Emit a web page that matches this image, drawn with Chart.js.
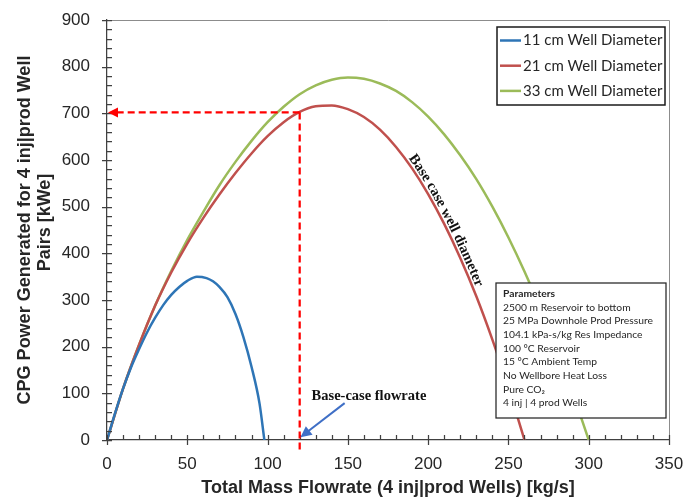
<!DOCTYPE html>
<html><head><meta charset="utf-8">
<script src="https://cdn.jsdelivr.net/npm/chart.js@4.4.1/dist/chart.umd.min.js"></script>
<style>html,body{margin:0;padding:0;background:#fff;}#wrap{width:697px;height:499px;}</style>
</head><body><div id="wrap"><canvas id="c" width="697" height="499"></canvas></div>
<script>
// ---- data ----
const xTickValues = [0, 50, 100, 150, 200, 250, 300, 350];
const yTickValues = [0, 100, 200, 300, 400, 500, 600, 700, 800, 900];
const seriesLabels = ['11 cm Well Diameter', '21 cm Well Diameter', '33 cm Well Diameter'];
const flow11 = [0, 5, 10, 15, 20, 25, 30, 35, 40, 45, 50, 56, 62, 66, 70, 75, 80, 85, 90, 95, 98];
const power11 = [0, 57, 110, 156, 195, 231, 262, 289, 311, 328, 341, 350, 347, 340, 328, 306, 270, 220, 157, 78, 0];
const flow21 = [0, 10, 20, 30, 40, 50, 60, 70, 80, 90, 100, 110, 120, 130, 140, 150, 160, 170, 180, 190, 200, 210, 220, 230, 240, 250, 260];
const power21 = [0, 110, 204, 288, 359, 421, 476, 526, 572, 614, 651, 681, 703, 715, 717, 709, 692, 665, 628, 582, 527, 463, 390, 308, 215, 112, 0];
const flow33 = [0, 10, 20, 30, 40, 50, 60, 70, 80, 90, 100, 110, 120, 130, 140, 150, 160, 170, 180, 190, 200, 210, 220, 230, 240, 250, 260, 270, 280, 290, 300];
const power33 = [0, 110, 204, 288, 362, 429, 489, 546, 596, 641, 681, 714, 741, 760, 772, 777, 774, 764, 748, 724, 693, 655, 610, 559, 500, 434, 361, 281, 195, 101, 0];
const baseCaseFlow = 120;
const baseCasePower = 702;
const flowLabel = 'Base-case flowrate';
const diameterLabel = 'Base case well diameter';
const paramsTitle = 'Parameters';
const paramsLines = ['2500 m Reservoir to bottom', '25 MPa Downhole Prod Pressure', '104.1 kPa-s/kg Res Impedance',
  '100 \u00B0C Reservoir', '15 \u00B0C Ambient Temp', 'No Wellbore Heat Loss', 'Pure CO\u2082', '4 inj | 4 prod Wells'];
const xTitle = 'Total Mass Flowrate (4 inj|prod Wells) [kg/s]';
const yTitle = ['CPG Power Generated for 4 inj|prod Well', '   Pairs [kWe]'];
const colors = ['#2E75B6', '#C0504D', '#9BBB59'];

const toXY = (xs, ys) => xs.map((x, i) => ({x, y: ys[i]}));
const AXIS = '#404040';
const TXT = '#262626';

function arrowHead(ctx, tipX, tipY, fromX, fromY, len, half, color) {
  const a = Math.atan2(tipY - fromY, tipX - fromX);
  ctx.save();
  ctx.translate(tipX, tipY); ctx.rotate(a);
  ctx.beginPath(); ctx.moveTo(0, 0); ctx.lineTo(-len, -half); ctx.lineTo(-len, half); ctx.closePath();
  ctx.fillStyle = color; ctx.fill();
  ctx.restore();
}

const decor = {
  id: 'decor',
  afterDatasetsDraw(chart) {
    const {ctx, chartArea: ca, scales: {x, y}} = chart;
    ctx.save();
    // frame top/right
    ctx.strokeStyle = '#8c8c8c'; ctx.lineWidth = 1;
    ctx.beginPath(); ctx.moveTo(ca.left, ca.top + 0.5); ctx.lineTo(ca.right + 0.5, ca.top + 0.5); ctx.lineTo(ca.right + 0.5, ca.bottom); ctx.stroke();
    // ticks
    ctx.strokeStyle = AXIS; ctx.lineWidth = 1.25;
    ctx.beginPath();
    for (let v = 0; v <= 900; v += 20) {
      const py = Math.round(y.getPixelForValue(v)) + 0.5;
      const major = v % 100 === 0;
      ctx.moveTo(ca.left - (major ? 5 : 0), py); ctx.lineTo(ca.left + 5, py);
    }
    for (let v = 0; v <= 350; v += 10) {
      const px = Math.round(x.getPixelForValue(v)) + 0.5;
      const major = v % 50 === 0;
      ctx.moveTo(px, ca.bottom - 5); ctx.lineTo(px, ca.bottom + (major ? 5 : 0));
    }
    ctx.stroke();
    // red dashed guide lines
    const bx = x.getPixelForValue(baseCaseFlow), by = y.getPixelForValue(baseCasePower);
    const x0 = x.getPixelForValue(0);
    ctx.strokeStyle = '#FF0000'; ctx.lineWidth = 2.25; ctx.setLineDash([7, 4]);
    ctx.beginPath(); ctx.moveTo(bx, by); ctx.lineTo(x0 + 9, by); ctx.stroke();
    ctx.beginPath(); ctx.moveTo(bx, by); ctx.lineTo(bx, ca.bottom + 12); ctx.stroke();
    ctx.setLineDash([]);
    arrowHead(ctx, x0 + 1, by, bx, by, 10, 5, '#FF0000');
    // blue arrow
    const ax1 = x.getPixelForValue(148), ay1 = y.getPixelForValue(79);
    const ax2 = x.getPixelForValue(120.5), ay2 = y.getPixelForValue(6);
    ctx.strokeStyle = '#3F6FC6'; ctx.lineWidth = 2;
    const ang = Math.atan2(ay2 - ay1, ax2 - ax1);
    ctx.beginPath(); ctx.moveTo(ax1, ay1); ctx.lineTo(ax2 - 8 * Math.cos(ang), ay2 - 8 * Math.sin(ang)); ctx.stroke();
    arrowHead(ctx, ax2, ay2, ax1, ay1, 11, 5.5, '#3F6FC6');
    // flow label
    ctx.fillStyle = '#111'; ctx.font = 'bold 14.5px "Liberation Serif", "Times New Roman", serif';
    ctx.textBaseline = 'middle'; ctx.textAlign = 'left';
    ctx.fillText(flowLabel, x.getPixelForValue(127.4), y.getPixelForValue(93));
    // curved label along red curve
    const line = chart.getDatasetMeta(1).dataset;
    const pts = [];
    for (let v = 176; v <= 245; v += 0.25) {
      const p = line.interpolate({x: x.getPixelForValue(v)}, 'x');
      if (p && !Array.isArray(p)) pts.push([p.x, p.y]);
    }
    const off = [];
    for (let i = 1; i < pts.length - 1; i++) {
      const dx = pts[i + 1][0] - pts[i - 1][0], dy = pts[i + 1][1] - pts[i - 1][1];
      const L = Math.hypot(dx, dy);
      const nx = dy / L, ny = -dx / L;
      off.push([pts[i][0] + nx * 3, pts[i][1] + ny * 3]);
    }
    const cum = [0];
    for (let i = 1; i < off.length; i++) cum.push(cum[i - 1] + Math.hypot(off[i][0] - off[i - 1][0], off[i][1] - off[i - 1][1]));
    let startIdx = off.findIndex(p => p[1] >= 158);
    if (startIdx < 0) startIdx = 0;
    let s = cum[startIdx];
    const at = (sv) => {
      let i = 1; while (i < cum.length - 1 && cum[i] < sv) i++;
      const t = (sv - cum[i - 1]) / ((cum[i] - cum[i - 1]) || 1);
      const px = off[i - 1][0] + t * (off[i][0] - off[i - 1][0]);
      const py = off[i - 1][1] + t * (off[i][1] - off[i - 1][1]);
      const a = Math.atan2(off[i][1] - off[i - 1][1], off[i][0] - off[i - 1][0]);
      return {px, py, a};
    };
    ctx.font = 'bold 14.5px "Liberation Serif", "Times New Roman", serif';
    ctx.textBaseline = 'alphabetic';
    for (const ch of diameterLabel) {
      const w = ctx.measureText(ch).width;
      const mid = at(s + w / 2);
      const st = at(s);
      ctx.save(); ctx.translate(st.px, st.py); ctx.rotate(mid.a);
      ctx.fillText(ch, 0, 0); ctx.restore();
      s += w;
    }
    ctx.restore();
  },
  afterDraw(chart) {
    const {ctx} = chart;
    ctx.save();
    // legend box
    ctx.fillStyle = '#fff'; ctx.fillRect(497, 27, 168, 78);
    ctx.strokeStyle = '#1a1a1a'; ctx.lineWidth = 1.5; ctx.strokeRect(497, 27, 168, 78);
    ctx.font = '15px Lato, "Open Sans", sans-serif'; ctx.textBaseline = 'middle'; ctx.textAlign = 'left';
    chart.data.datasets.forEach((ds, i) => {
      const ry = 40.5 + i * 25.2;
      ctx.strokeStyle = ds.borderColor; ctx.lineWidth = 2.5;
      ctx.beginPath(); ctx.moveTo(500, ry); ctx.lineTo(521, ry); ctx.stroke();
      ctx.fillStyle = TXT; ctx.fillText(ds.label, 523, ry);
    });
    // parameters box
    ctx.fillStyle = '#fff'; ctx.fillRect(496, 283, 170, 135);
    ctx.strokeStyle = '#262626'; ctx.lineWidth = 1.25; ctx.strokeRect(496, 283, 170, 135);
    ctx.fillStyle = TXT;
    ctx.font = 'bold 10.3px Lato, "Open Sans", sans-serif';
    ctx.fillText(paramsTitle, 503, 294);
    ctx.font = '10.3px Lato, "Open Sans", sans-serif';
    paramsLines.forEach((t, i) => ctx.fillText(t, 503, 307.5 + i * 13.65));
    ctx.restore();
  }
};

new Chart(document.getElementById('c'), {
  type: 'line',
  data: {
    datasets: [
      {label: seriesLabels[0], data: toXY(flow11, power11), borderColor: colors[0]},
      {label: seriesLabels[1], data: toXY(flow21, power21), borderColor: colors[1]},
      {label: seriesLabels[2], data: toXY(flow33, power33), borderColor: colors[2]}
    ].map(d => Object.assign(d, {borderWidth: 2.5, pointRadius: 0, fill: false, cubicInterpolationMode: 'monotone'}))
  },
  options: {
    responsive: false, animation: false, devicePixelRatio: 1,
    layout: {padding: {top: 20, right: 28, left: 0, bottom: 0}},
    plugins: {legend: {display: false}, tooltip: {enabled: false}},
    scales: {
      x: {
        type: 'linear', min: 0, max: 350,
        afterFit: s => { s.height = 59; s.paddingLeft = 0; s.paddingRight = 0; },
        afterBuildTicks: s => { s.ticks = xTickValues.map(v => ({value: v})); },
        ticks: {font: {family: '"Liberation Sans", Arial, sans-serif', size: 17}, color: TXT, padding: 14, maxRotation: 0},
        grid: {display: false, drawTicks: false},
        border: {display: true, color: AXIS, width: 1.25},
        title: {display: true, text: xTitle, color: TXT, font: {family: '"Liberation Sans", Arial, sans-serif', size: 18, weight: 'bold', lineHeight: 1.1}, padding: {top: 0, bottom: 1}}
      },
      y: {
        type: 'linear', min: 0, max: 900,
        afterFit: s => { s.width = 107; s.paddingTop = 0; s.paddingBottom = 0; },
        afterBuildTicks: s => { s.ticks = yTickValues.map(v => ({value: v})); },
        ticks: {font: {family: '"Liberation Sans", Arial, sans-serif', size: 17}, color: TXT, padding: 17},
        grid: {display: false, drawTicks: false},
        border: {display: true, color: AXIS, width: 1.25},
        title: {display: true, text: yTitle, color: TXT, font: {family: '"Liberation Sans", Arial, sans-serif', size: 18, weight: 'bold', lineHeight: 1.1}, padding: {top: 15, bottom: 0}}
      }
    }
  },
  plugins: [decor]
});
</script></body></html>
